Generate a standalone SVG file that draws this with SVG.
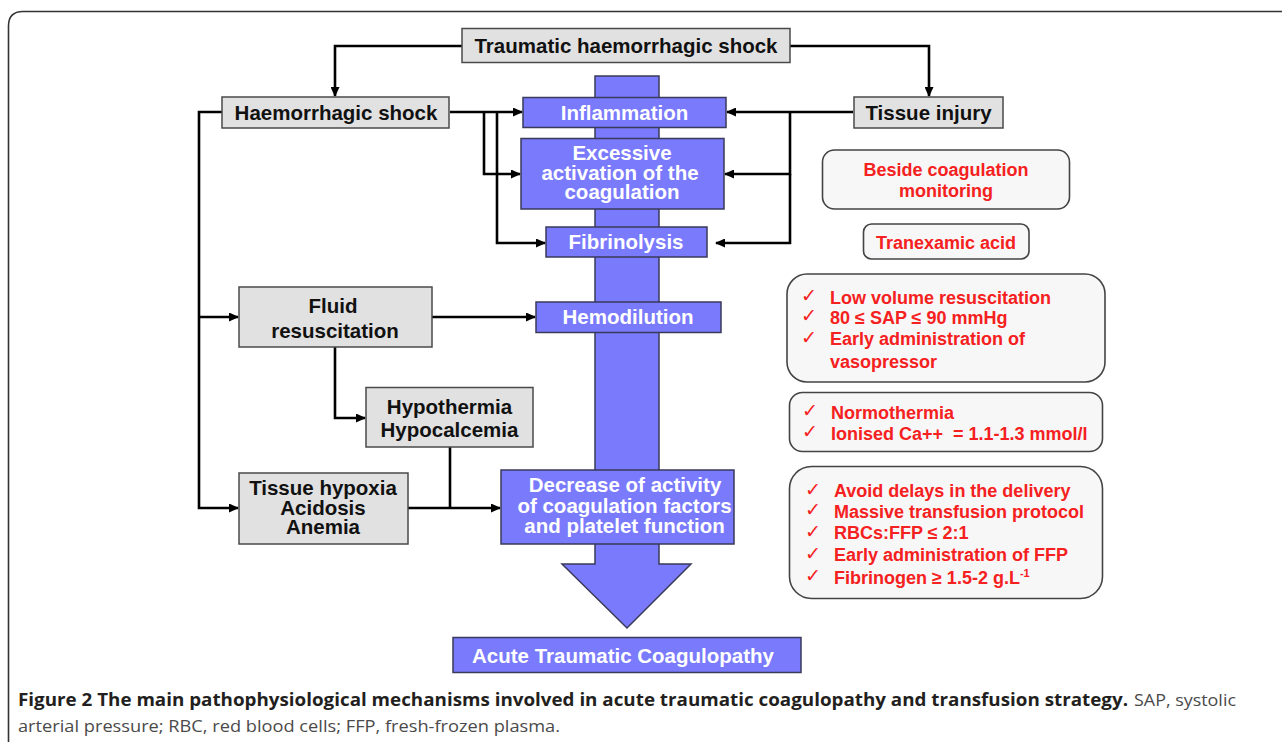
<svg xmlns="http://www.w3.org/2000/svg" width="1282" height="742" viewBox="0 0 1282 742">
<defs>
<style>
.gbox{fill:#e1e1e1;stroke:#4a4a4a;stroke-width:1.5}
.bbox{fill:#7a7afc;stroke:#3a3a5a;stroke-width:1.5}
.rbox{fill:#f7f7f7;stroke:#444;stroke-width:1.6}
.lbl{font-family:"Liberation Sans",Arial,sans-serif;font-weight:bold;font-size:20.5px;text-anchor:middle}
.blk{fill:#111}
.wht{fill:#fff}
.red{font-family:"Liberation Sans",Arial,sans-serif;font-weight:bold;font-size:18px;fill:#f52020;white-space:pre}
.chk{font-family:"DejaVu Sans",sans-serif;font-size:19px;fill:#f52020}
.conn{fill:none;stroke:#000;stroke-width:2.6}
.cap{font-family:"Open Sans","Liberation Sans",sans-serif;font-size:17px}
</style>
<marker id="ah" markerUnits="userSpaceOnUse" markerWidth="10" markerHeight="9" refX="9" refY="4.5" orient="auto">
<path d="M0,0 L10,4.5 L0,9 z" fill="#000"/>
</marker>
</defs>
<rect width="1282" height="742" fill="#fff"/>
<path d="M8.5,742 V26 Q8.5,11.5 23,11.5 H1282" fill="none" stroke="#333" stroke-width="1.6"/>

<g id="big-arrow">
<polygon points="595,76 659,76 659,564 691,564 627,628 562,564 595,564" fill="#7a7afc" stroke="#3a3a5a" stroke-width="1.5"/>
</g>

<g id="connectors">
<path class="conn" d="M462,46 H335 V96" marker-end="url(#ah)"/>
<path class="conn" d="M790,46 H929 V96" marker-end="url(#ah)"/>
<path class="conn" d="M450,112 H522" marker-end="url(#ah)"/>
<path class="conn" d="M484,112 V174 H520" marker-end="url(#ah)"/>
<path class="conn" d="M497,112 V243 H545" marker-end="url(#ah)"/>
<path class="conn" d="M853,112 H727" marker-end="url(#ah)"/>
<path class="conn" d="M790,112 V174 H725" marker-end="url(#ah)"/>
<path class="conn" d="M790,174 V243 H716" marker-end="url(#ah)"/>
<path class="conn" d="M222,112 H199 V508 H238" marker-end="url(#ah)"/>
<path class="conn" d="M199,317 H238" marker-end="url(#ah)"/>
<path class="conn" d="M432,317 H535" marker-end="url(#ah)"/>
<path class="conn" d="M335,347 V418 H365" marker-end="url(#ah)"/>
<path class="conn" d="M450,447 V508"/>
<path class="conn" d="M408,508 H500" marker-end="url(#ah)"/>
</g>

<g id="traumatic">
<rect class="gbox" x="462" y="28.5" width="328" height="34"/>
<text class="lbl blk" x="626" y="53">Traumatic haemorrhagic shock</text>
</g>
<g id="haemorrhagic">
<rect class="gbox" x="222" y="97" width="227" height="31"/>
<text class="lbl blk" x="336" y="119.5">Haemorrhagic shock</text>
</g>
<g id="tissue-injury">
<rect class="gbox" x="854" y="97" width="149" height="31"/>
<text class="lbl blk" x="928.5" y="119.5">Tissue injury</text>
</g>
<g id="inflammation">
<rect class="bbox" x="523" y="97.5" width="203" height="30"/>
<text class="lbl wht" x="624.5" y="120">Inflammation</text>
</g>
<g id="excessive">
<rect class="bbox" x="521" y="138.5" width="203" height="70.5"/>
<text class="lbl wht" x="622" y="160">Excessive</text>
<text class="lbl wht" x="620" y="179.5">activation of the</text>
<text class="lbl wht" x="622" y="198.5">coagulation</text>
</g>
<g id="fibrinolysis">
<rect class="bbox" x="546" y="227" width="161" height="30"/>
<text class="lbl wht" x="626" y="248.5">Fibrinolysis</text>
</g>
<g id="fluid">
<rect class="gbox" x="239" y="287" width="193" height="60"/>
<text class="lbl blk" x="333" y="312.5">Fluid</text>
<text class="lbl blk" x="335" y="337.5">resuscitation</text>
</g>
<g id="hemodilution">
<rect class="bbox" x="536" y="302" width="185" height="30.5"/>
<text class="lbl wht" x="628" y="324">Hemodilution</text>
</g>
<g id="hypothermia">
<rect class="gbox" x="366" y="387.5" width="167" height="59.5"/>
<text class="lbl blk" x="449.5" y="413.5">Hypothermia</text>
<text class="lbl blk" x="449.5" y="437">Hypocalcemia</text>
</g>
<g id="tissue-hypoxia">
<rect class="gbox" x="239" y="473" width="169" height="71"/>
<text class="lbl blk" x="323" y="495">Tissue hypoxia</text>
<text class="lbl blk" x="323" y="514.5">Acidosis</text>
<text class="lbl blk" x="323" y="534">Anemia</text>
</g>
<g id="decrease">
<rect class="bbox" x="501" y="470" width="233" height="74"/>
<text class="lbl wht" x="625" y="492">Decrease of activity</text>
<text class="lbl wht" x="624.5" y="512.5">of coagulation factors</text>
<text class="lbl wht" x="624.5" y="532.5">and platelet function</text>
</g>
<g id="atc">
<rect class="bbox" x="453" y="637.5" width="348" height="35"/>
<text class="lbl wht" x="623" y="662.5">Acute Traumatic Coagulopathy</text>
</g>

<g id="bedside">
<rect class="rbox" x="822.5" y="150" width="247" height="59" rx="12"/>
<text class="red" x="946" y="176" text-anchor="middle">Beside coagulation</text>
<text class="red" x="946" y="196.5" text-anchor="middle">monitoring</text>
</g>
<g id="tranexamic">
<rect class="rbox" x="863.5" y="224" width="165.5" height="35" rx="8"/>
<text class="red" x="946" y="248.5" text-anchor="middle">Tranexamic acid</text>
</g>
<g id="resuscitation-box">
<rect class="rbox" x="787" y="274" width="318" height="108" rx="20"/>
<text class="chk" x="801" y="302">✓</text>
<text class="red" x="830" y="303.5">Low volume resuscitation</text>
<text class="chk" x="801" y="322">✓</text>
<text class="red" x="830" y="323.5">80 ≤ SAP ≤ 90 mmHg</text>
<text class="chk" x="801" y="344">✓</text>
<text class="red" x="830" y="345">Early administration of</text>
<text class="red" x="830" y="367.5">vasopressor</text>
</g>
<g id="normothermia-box">
<rect class="rbox" x="789.5" y="392.5" width="313" height="59" rx="13"/>
<text class="chk" x="802" y="417">✓</text>
<text class="red" x="831" y="418.5">Normothermia</text>
<text class="chk" x="802" y="438">✓</text>
<text class="red" x="831" y="439.5">Ionised Ca++  = 1.1-1.3 mmol/l</text>
</g>
<g id="transfusion-box">
<rect class="rbox" x="789.5" y="466.5" width="313" height="132" rx="22"/>
<text class="chk" x="805" y="495.5">✓</text>
<text class="red" x="834" y="497">Avoid delays in the delivery</text>
<text class="chk" x="805" y="516">✓</text>
<text class="red" x="834" y="517.5">Massive transfusion protocol</text>
<text class="chk" x="805" y="538">✓</text>
<text class="red" x="834" y="539">RBCs:FFP ≤ 2:1</text>
<text class="chk" x="805" y="560">✓</text>
<text class="red" x="834" y="561">Early administration of FFP</text>
<text class="chk" x="805" y="582">✓</text>
<text class="red" x="834" y="583.5">Fibrinogen ≥ 1.5-2 g.L<tspan font-size="11" dy="-7">-1</tspan></text>
</g>

<g id="caption">
<text class="cap" x="18" y="706" font-weight="bold" fill="#231f20" textLength="1110" lengthAdjust="spacingAndGlyphs">Figure 2 The main pathophysiological mechanisms involved in acute traumatic coagulopathy and transfusion strategy.</text>
<text class="cap" x="1134" y="706" fill="#4a4a4a" textLength="102" lengthAdjust="spacingAndGlyphs">SAP, systolic</text>
<text class="cap" x="18" y="731.5" fill="#4a4a4a" textLength="542" lengthAdjust="spacingAndGlyphs">arterial pressure; RBC, red blood cells; FFP, fresh-frozen plasma.</text>
</g>
</svg>
